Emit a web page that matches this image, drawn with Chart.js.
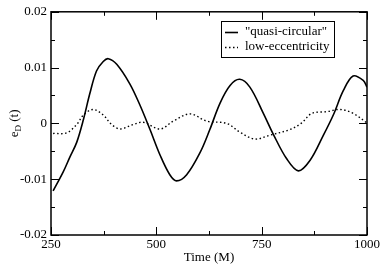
<!DOCTYPE html>
<html>
<head>
<meta charset="utf-8">
<script src="https://cdn.jsdelivr.net/npm/chart.js@4"></script>
<style>
  html, body { margin:0; padding:0; background:#fff; }
  #wrap { width:382px; height:265px; }
</style>
</head>
<body>
<div id="wrap"><canvas id="chart" width="382" height="265"></canvas></div>
<script>
// Data
const circTime = [255, 279, 295, 311, 327, 342, 358, 374, 386, 406, 437, 461, 485, 509, 532, 548, 572, 604, 627, 651, 675, 698, 722, 754, 778, 809, 837, 865, 896, 920, 944, 967, 991, 1000]
const circE = [-0.0121, -0.0087, -0.0060, -0.0034, 0.0007, 0.0053, 0.0094, 0.0111, 0.0116, 0.0106, 0.0071, 0.0033, -0.0011, -0.0057, -0.0092, -0.0103, -0.0092, -0.0052, -0.0011, 0.0036, 0.0068, 0.0079, 0.0065, 0.0018, -0.0020, -0.0063, -0.0085, -0.0066, -0.0022, 0.0015, 0.0059, 0.0085, 0.0077, 0.0065]

const eccTime = [255, 287, 311, 327, 350, 374, 394, 414, 445, 469, 509, 540, 580, 620, 667, 699, 734, 770, 817, 845, 869, 905, 936, 967, 1000]
const eccE = [-0.0018, -0.0017, -0.0002, 0.0015, 0.0025, 0.0015, -0.0002, -0.0010, -0.0002, 0.0002, -0.0010, 0.0004, 0.0017, 0.0004, 0.0000, -0.0016, -0.0028, -0.0021, -0.0011, 0.0001, 0.0018, 0.0021, 0.0025, 0.0018, 0.0001]

const seriesLabels = ['"quasi-circular"', 'low-eccentricity']
const xTicks = [250, 500, 750, 1000]
const xMinor = [375, 625, 875]
const yTicks = [-0.02, -0.01, 0, 0.01, 0.02]
const yMinor = [-0.015, -0.005, 0.005, 0.015]

const FONT = '"Liberation Serif", "Times New Roman", serif'

const toPoints = (xs, ys) => xs.map((x, i) => ({ x: x, y: ys[i] }))

// frame, inward ticks, legend box and y title
const decorPlugin = {
  id: 'decor',
  afterDatasetsDraw(chart) {
    const { ctx, chartArea: a, scales } = chart
    const xs = scales.x, ys = scales.y
    ctx.save()
    ctx.strokeStyle = '#000'
    ctx.lineWidth = 1.5
    ctx.strokeRect(a.left, a.top, a.right - a.left, a.bottom - a.top)

    ctx.lineWidth = 1
    ctx.beginPath()
    const xt = (v, len) => {
      const p = Math.round(xs.getPixelForValue(v)) + 0.5
      ctx.moveTo(p, a.bottom); ctx.lineTo(p, a.bottom - len)
      ctx.moveTo(p, a.top); ctx.lineTo(p, a.top + len)
    }
    const yt = (v, len) => {
      const p = Math.round(ys.getPixelForValue(v)) + 0.5
      ctx.moveTo(a.left, p); ctx.lineTo(a.left + len, p)
      ctx.moveTo(a.right, p); ctx.lineTo(a.right - len, p)
    }
    xTicks.forEach(v => xt(v, 8))
    xMinor.forEach(v => xt(v, 4))
    yTicks.forEach(v => yt(v, 8))
    yMinor.forEach(v => yt(v, 4))
    ctx.stroke()

    // legend
    const bx = 221, by = 21, bw = 113, bh = 36
    ctx.fillStyle = '#fff'
    ctx.fillRect(bx, by, bw, bh)
    ctx.lineWidth = 1
    ctx.strokeRect(bx + 0.5, by + 0.5, bw, bh)
    ctx.font = '13px ' + FONT
    ctx.textBaseline = 'middle'
    ctx.textAlign = 'left'
    chart.data.datasets.forEach((ds, i) => {
      const cy = by + 11 + i * 15
      ctx.beginPath()
      ctx.lineWidth = ds.borderWidth
      ctx.setLineDash(ds.borderDash || [])
      ctx.moveTo(bx + 4, cy + 0.5); ctx.lineTo(bx + 17, cy + 0.5)
      ctx.stroke()
      ctx.setLineDash([])
      ctx.fillStyle = '#000'
      ctx.fillText(ds.label, bx + 24, cy)
    })

    // y title e_D (t)
    ctx.translate(14, (a.top + a.bottom) / 2)
    ctx.rotate(-Math.PI / 2)
    ctx.textBaseline = 'alphabetic'
    const w1 = ctx.measureText('e').width
    ctx.font = '9px ' + FONT
    const w2 = ctx.measureText('D').width
    ctx.font = '13px ' + FONT
    const w3 = ctx.measureText(' (t)').width
    let x0 = -(w1 + w2 + w3) / 2
    ctx.fillText('e', x0, 4)
    ctx.font = '9px ' + FONT
    ctx.fillText('D', x0 + w1, 7)
    ctx.font = '13px ' + FONT
    ctx.fillText(' (t)', x0 + w1 + w2, 4)
    ctx.restore()
  }
}

new Chart(document.getElementById('chart'), {
  type: 'line',
  data: {
    datasets: [
      { label: seriesLabels[0], data: toPoints(circTime, circE), borderColor: '#000', borderWidth: 1.6, pointRadius: 0, tension: 0.35, fill: false },
      { label: seriesLabels[1], data: toPoints(eccTime, eccE), borderColor: '#000', borderWidth: 1.4, borderDash: [1.5, 2.5], pointRadius: 0, tension: 0.35, fill: false }
    ]
  },
  options: {
    responsive: false,
    animation: false,
    layout: { padding: { top: 6, right: 15, left: 0, bottom: 0 } },
    plugins: { legend: { display: false }, tooltip: { enabled: false } },
    scales: {
      x: {
        type: 'linear', min: 250, max: 1000,
        afterBuildTicks: s => { s.ticks = xTicks.map(v => ({ value: v })) },
        afterFit: s => { s.height = 30 },
        grid: { display: false, drawTicks: false },
        border: { display: false },
        ticks: { color: '#000', padding: 2, maxRotation: 0, font: { family: FONT, size: 13 },
          callback: v => String(v) },
        title: { display: true, text: 'Time (M)', color: '#000', padding: 0, font: { family: FONT, size: 13 } }
      },
      y: {
        min: -0.02, max: 0.02,
        afterBuildTicks: s => { s.ticks = yTicks.map(v => ({ value: v })) },
        afterFit: s => { s.width = 51 },
        grid: { display: false, drawTicks: false },
        border: { display: false },
        ticks: { color: '#000', padding: 4, font: { family: FONT, size: 13 },
          callback: v => v === 0 ? '0' : String(v) }
      }
    }
  },
  plugins: [decorPlugin]
})
</script>
</body>
</html>
